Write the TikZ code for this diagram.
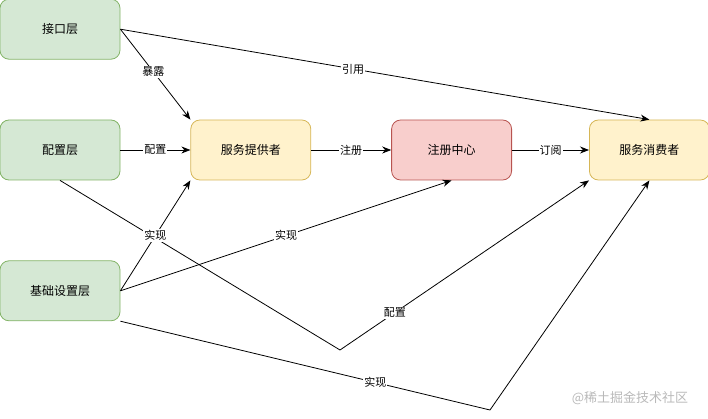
\documentclass[tikz,border=0pt]{standalone}
\usepackage{fontspec}
\setmainfont{Noto Sans CJK SC}
\usepackage{tikz}
\usetikzlibrary{positioning, arrows.meta}

\definecolor{layerfill}{HTML}{D5E8D4}
\definecolor{layerdraw}{HTML}{82B366}
\definecolor{svcfill}{HTML}{FFF2CC}
\definecolor{svcdraw}{HTML}{D6B656}
\definecolor{regfill}{HTML}{F8CECC}
\definecolor{regdraw}{HTML}{B85450}

\begin{document}
\begin{tikzpicture}[
    x=1pt, y=1pt,
    box/.style={rectangle, rounded corners=9pt, draw, line width=0.8pt, minimum width=120pt, minimum height=60pt, align=center, font=\fontsize{12}{14}\selectfont},
    arr/.style={-{Stealth[length=9pt, width=7pt]}, line width=0.8pt},
    lbl/.style={fill=white, inner sep=1pt, font=\fontsize{11}{13}\selectfont}
]
    \useasboundingbox (0,0) rectangle (708,-419);

    \node[box, fill=layerfill, draw=layerdraw] (cfg) at (60,-150) {配置层};
    \node[box, fill=layerfill, draw=layerdraw, above=60pt of cfg] (api) {接口层};
    \node[box, fill=layerfill, draw=layerdraw, below=80pt of cfg] (infra) {基础设置层};
    \node[box, fill=svcfill, draw=svcdraw, right=70pt of cfg] (prov) {服务提供者};
    \node[box, fill=regfill, draw=regdraw, right=80pt of prov] (reg) {注册中心};
    \node[box, fill=svcfill, draw=svcdraw, right=77pt of reg] (cons) {服务消费者};

    \coordinate (bend1) at (340,-350);
    \coordinate (bend2) at (490,-410);

    \draw[arr] (api.east) -- node[lbl, pos=0.47] {暴露} (prov.north west);
    \draw[arr] (api.east) -- node[lbl, pos=0.44] {引用} (cons.north);
    \draw[arr] (cfg) -- node[lbl] {配置} (prov);
    \draw[arr] (prov) -- node[lbl] {注册} (reg);
    \draw[arr] (reg) -- node[lbl] {订阅} (cons);
    \draw[arr] (cfg.south) -- (bend1) -- node[lbl, pos=0.22] {配置} (cons.south west);
    \draw[arr] (infra.east) -- node[lbl] {实现} (prov.south west);
    \draw[arr] (infra.east) -- node[lbl] {实现} (reg.south);
    \draw[arr] (infra.south east) -- node[lbl, pos=0.69] {实现} (bend2) -- (cons.south);

    \node[text=gray!55, font=\fontsize{13}{15}\selectfont] (mark) at (630,-398) {@稀土掘金技术社区};
\end{tikzpicture}
\end{document}
